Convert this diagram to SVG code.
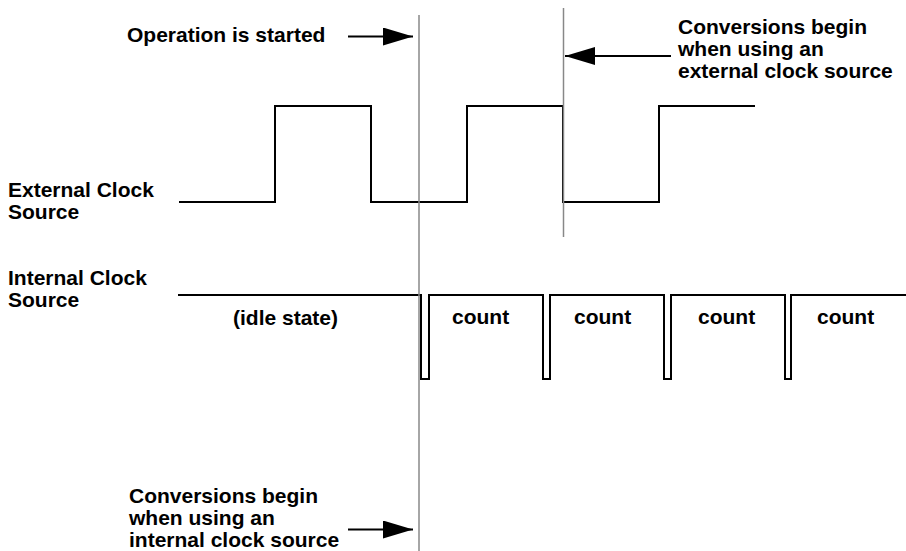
<svg xmlns="http://www.w3.org/2000/svg" width="906" height="551" viewBox="0 0 906 551">
<style>
text{font-family:"Liberation Sans",Arial,sans-serif;font-weight:bold;font-size:21px;fill:#000}
.wave{fill:none;stroke:#000;stroke-width:2}
.marker-line{stroke:#888;stroke-width:1.5}
.arrow{stroke:#000;stroke-width:2}
</style>
<defs>
<marker id="ah" markerWidth="30" markerHeight="18" refX="30" refY="9" orient="auto" markerUnits="userSpaceOnUse">
<path d="M0,0 L30,9 L0,18 Z" fill="#000"/>
</marker>
</defs>
<rect width="906" height="551" fill="#fff"/>
<g id="labels">
<text x="127" y="42">Operation is started</text>
<text x="8" y="197">External Clock</text>
<text x="8" y="219">Source</text>
<text x="8" y="285">Internal Clock</text>
<text x="8" y="307">Source</text>
<text x="678" y="34">Conversions begin</text>
<text x="678" y="56">when using an</text>
<text x="678" y="78">external clock source</text>
<text x="129" y="503">Conversions begin</text>
<text x="129" y="525">when using an</text>
<text x="129" y="547">internal clock source</text>
</g>
<g id="external-clock">
<path class="wave" d="M179,202 H275 V106 H371 V202 H467 V106 H563 V202 H659 V106 H755"/>
</g>
<g id="internal-clock">
<path class="wave" d="M178,295 H421 V379 H429 V295 H543 V379 H550 V295 H664 V379 H671 V295 H785 V379 H791 V295 H906"/>
<text x="233" y="325">(idle state)</text>
<text x="452" y="324">count</text>
<text x="574" y="324">count</text>
<text x="698" y="324">count</text>
<text x="817" y="324">count</text>
</g>
<g id="connectors">
<line class="marker-line" x1="419" y1="15" x2="419" y2="551"/>
<line class="marker-line" x1="563.5" y1="8" x2="563.5" y2="237"/>
<line class="arrow" x1="348" y1="36.5" x2="413" y2="36.5" marker-end="url(#ah)"/>
<line class="arrow" x1="671" y1="56" x2="565" y2="56" marker-end="url(#ah)"/>
<line class="arrow" x1="348" y1="529.5" x2="413" y2="529.5" marker-end="url(#ah)"/>
</g>
</svg>
